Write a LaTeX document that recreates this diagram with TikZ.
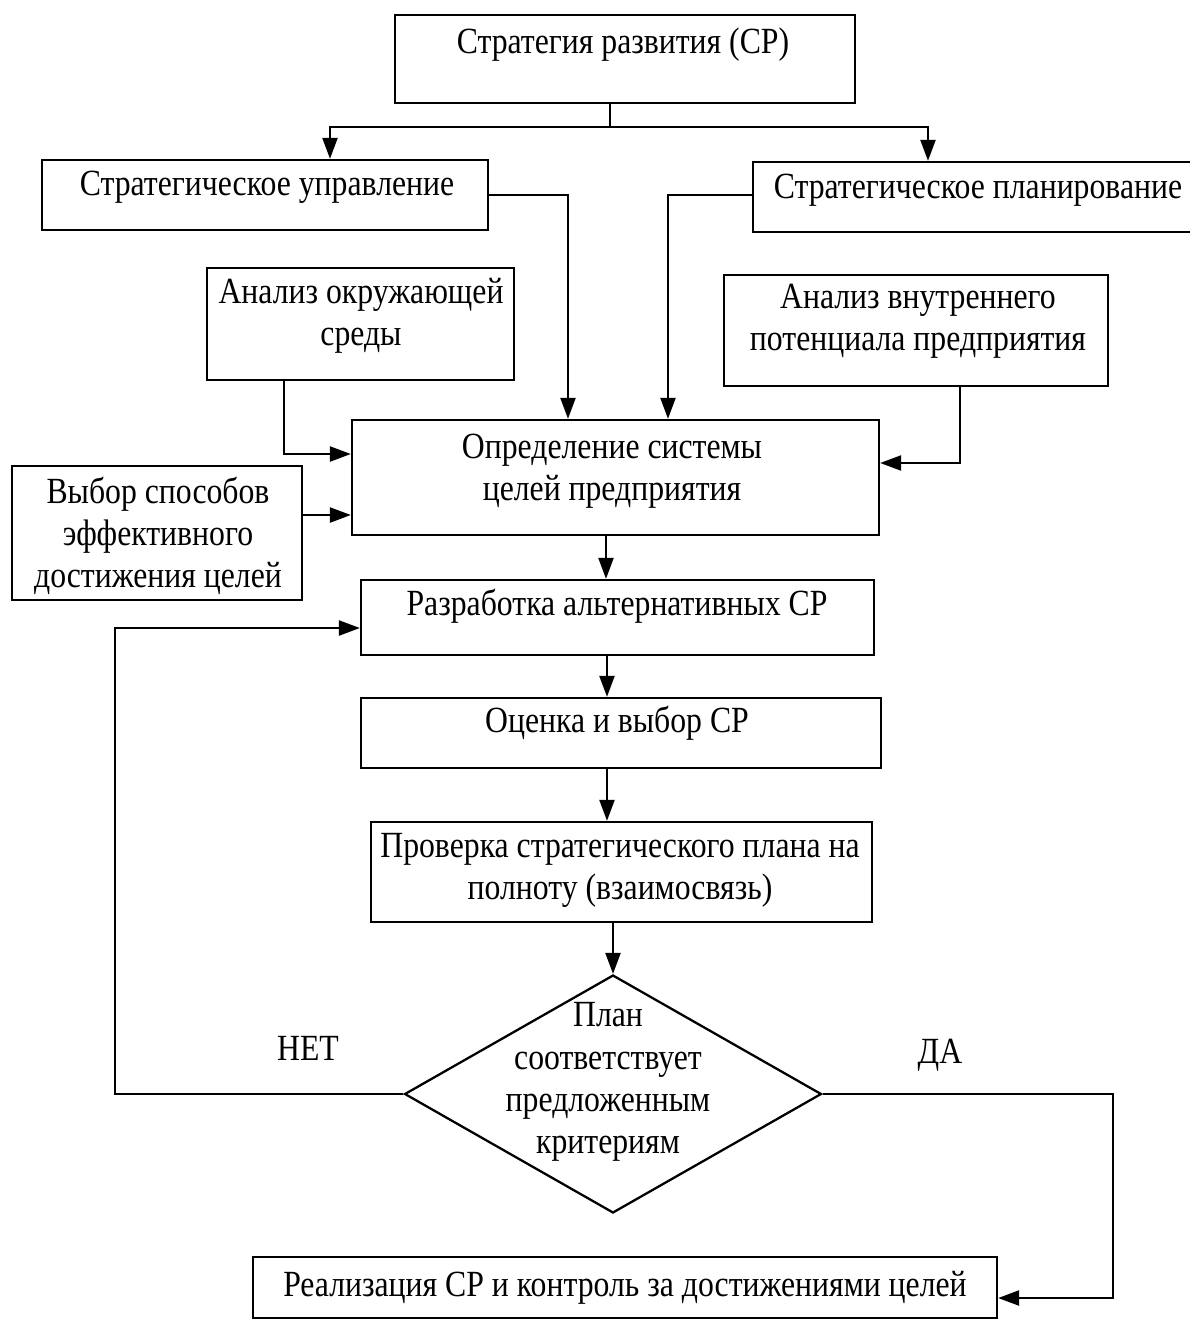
\documentclass[tikz,border=0pt]{standalone}
\usepackage{fontspec}
\setmainfont{Liberation Serif}[FakeStretch=0.86]
\usetikzlibrary{arrows.meta,fit,shapes.geometric}
\begin{document}
\begin{tikzpicture}[x=0.02cm,y=-0.02cm,
  box/.style={draw,line width=1.3pt,inner sep=0pt},
  txt/.style={inner sep=0pt,font=\fontsize{21}{24}\selectfont,align=center},
  conn/.style={line width=1.3pt},
  arr/.style={line width=1.3pt,-{Triangle[length=0.42cm,width=0.3cm]}}]
\useasboundingbox (0,0) rectangle (1190,1320);
% boxes
\node[box,fit={(395,15) (855,103)}] (b1) {};
\node[box,fit={(42,160) (488,230)}] (b2) {};
\node[box,fit={(753,162) (1210,232)}] (b3) {};
\node[box,fit={(207,268) (514,380)}] (b4) {};
\node[box,fit={(724,275) (1108,386)}] (b5) {};
\node[box,fit={(352,420) (879,535)}] (b6) {};
\node[box,fit={(12,466) (302,600)}] (b7) {};
\node[box,fit={(361,580) (874,655)}] (b8) {};
\node[box,fit={(361,698) (881,768)}] (b9) {};
\node[box,fit={(371,822) (872,922)}] (b10) {};
\node[draw,line width=1.3pt,diamond,inner sep=0pt,minimum width=8.34cm,minimum height=4.76cm] (d) at (613,1094) {};
\node[box,fit={(253,1257) (997,1318)}] (b12) {};
% texts
\node[txt] (t1) at (623,45) {Стратегия развития (СР)};
\node[txt] (t2) at (267,187) {Стратегическое управление};
\node[txt] (t3) at (978,190) {Стратегическое планирование};
\node[txt] (t4) at (361,316) {Анализ окружающей\\среды};
\node[txt] (t5) at (918,321) {Анализ внутреннего\\потенциала предприятия};
\node[txt] (t6) at (612,471) {Определение системы\\целей предприятия};
\node[txt] (t7) at (158,536) {Выбор способов\\эффективного\\достижения целей};
\node[txt] (t8) at (617,606) {Разработка альтернативных СР};
\node[txt] (t9) at (617,723) {Оценка и выбор СР};
\node[txt] (t10) at (620,870) {Проверка стратегического плана на\\полноту (взаимосвязь)};
\node[txt] (t11) at (608,1082) {План\\соответствует\\предложенным\\критериям};
\node[txt] (t12) at (625,1288) {Реализация СР и контроль за достижениями целей};
\node[txt] (no) at (308,1048) {НЕТ};
\node[txt] (yes) at (940,1055) {ДА};
% connectors
\coordinate (j) at (610,127);
\draw[conn] (b1.south -| j) -- (j);
\draw[arr] (j) -| (b2.north -| 330,0);
\draw[arr] (j) -| (b3.north -| 928,0);
\draw[arr] (b2.east |- 0,195) -| (b6.north -| 568,0);
\draw[arr] (b3.west |- 0,195) -| (b6.north -| 668,0);
\draw[arr] (b4.south -| 284,0) |- (b6.west |- 0,454);
\draw[arr] (b5.south -| 960,0) |- (b6.east |- 0,463);
\draw[arr] (b7.east |- 0,515) -- (b6.west |- 0,515);
\draw[arr] (b6.south -| 606,0) -- (b8.north -| 606,0);
\draw[arr] (b8.south -| 607,0) -- (b9.north -| 607,0);
\draw[arr] (b9.south -| 607,0) -- (b10.north -| 607,0);
\draw[arr] (b10.south -| d.north) -- (d.north);
\draw[arr] (d.west) -- (115,0 |- d.west) |- (b8.west |- 0,628);
\draw[arr] (d.east) -- (1113,0 |- d.east) |- (b12.east |- 0,1298);
\end{tikzpicture}
\end{document}
